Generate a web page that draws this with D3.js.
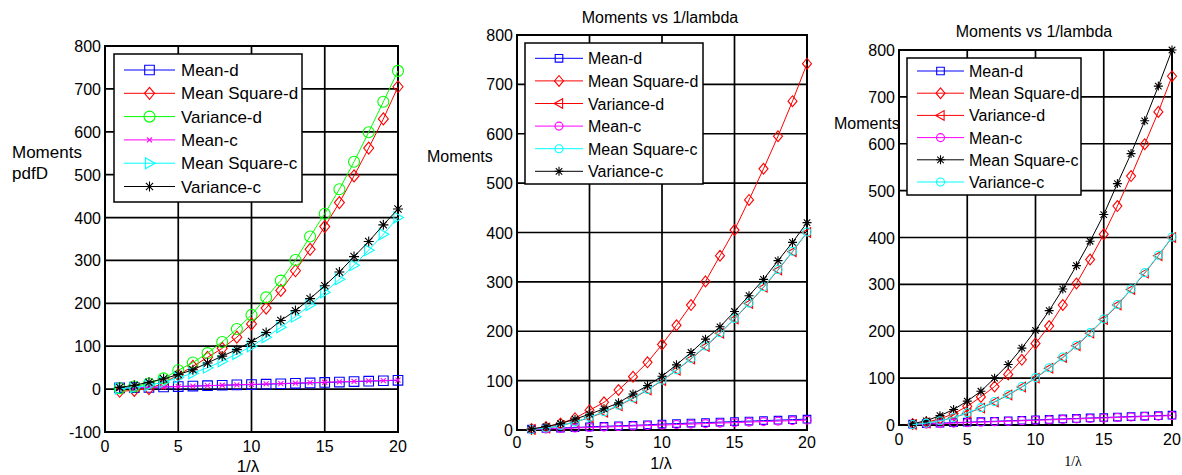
<!DOCTYPE html>
<html>
<head>
<meta charset="utf-8">
<script src="https://cdn.jsdelivr.net/npm/d3@7"></script>
<style>
body { margin: 0; background: #fff; }
svg text { font-family: "Liberation Sans", Arial, sans-serif; fill: #000; }
</style>
</head>
<body>
<svg id="chart" width="1182" height="475"></svg>
<script>
// x values (1/lambda)
const invLambda = [1, 2, 3, 4, 5, 6, 7, 8, 9, 10, 11, 12, 13, 14, 15, 16, 17, 18, 19, 20];
const xTicks = [0, 5, 10, 15, 20];
const yTicks1 = [-100, 0, 100, 200, 300, 400, 500, 600, 700, 800];
const yTicks23 = [0, 100, 200, 300, 400, 500, 600, 700, 800];

// panel 1 (pdfD)
const p1MeanD = [3, 3.5, 4, 5, 6, 7, 8, 9, 10, 10.5, 11.5, 12.5, 13.5, 14.5, 15.5, 16.5, 17.5, 18.5, 19.5, 20.5];
const p1MeanSqD = [-5, -3, 1, 14, 33, 53, 74, 95, 121, 152, 189, 230, 276, 326, 379, 435, 497, 562, 630, 705];
const p1VarD = [2, 6, 13, 25, 44, 62, 84, 110, 140, 173, 214, 253, 301, 356, 409, 466, 530, 599, 670, 742];
const p1MeanC = [2, 3, 4, 5, 6, 7, 8, 9, 10, 11, 12, 13, 14, 15, 16, 17, 18, 19, 20, 21];
const p1MeanSqC = [1, 4, 9, 16, 27, 37, 50, 65, 82, 100, 121, 144, 169, 196, 226, 256, 289, 324, 361, 400];
const p1VarC = [4, 9, 16, 24, 34, 45, 61, 77, 92, 111, 132, 160, 183, 211, 241, 273, 309, 344, 383, 420];

// panel 2
const p2MeanD = [2, 3, 4, 5, 6.5, 7.5, 8.5, 9.5, 10.5, 12, 13, 14, 15, 16, 17, 18, 19, 20, 21, 22];
const p2MeanSqD = [2, 6, 13, 24, 40, 56, 81, 108, 137, 173, 212, 253, 301, 353, 405, 466, 529, 595, 666, 742];
const p2VarD = [1, 4, 9, 16, 25, 36, 49, 64, 81, 100, 121, 144, 169, 196, 225, 256, 289, 324, 361, 400];
const p2MeanC = [1, 2, 3, 4, 5, 6, 7, 8, 9, 10, 11, 12, 13, 14, 15, 16, 17, 18, 19, 20];
const p2MeanSqC = [1, 4, 9, 16, 26, 37, 50, 65, 82, 101, 122, 145, 170, 197, 226, 257, 290, 325, 362, 401];
const p2VarC = [2, 7, 13, 22, 32, 43, 55, 73, 90, 109, 132, 157, 184, 209, 240, 272, 305, 343, 380, 420];

// panel 3
const p3MeanD = [2, 3, 4, 5, 6, 7, 8, 9, 10, 11, 12, 13, 14, 15, 16, 17, 18, 19, 20, 21];
const p3MeanSqD = [2, 6, 13, 24, 40, 60, 82, 108, 139, 174, 211, 256, 302, 353, 407, 467, 531, 599, 668, 744];
const p3VarD = [1, 4, 9, 16, 25, 36, 49, 64, 81, 100, 121, 144, 169, 196, 225, 256, 289, 324, 361, 400];
const p3MeanC = [1, 2, 3, 4, 5, 6, 7, 8, 9, 10, 11, 12, 13, 14, 15, 16, 17, 18, 19, 20];
const p3MeanSqC = [3, 9, 20, 33, 51, 72, 100, 129, 164, 202, 244, 290, 340, 392, 449, 515, 579, 649, 723, 800];
const p3VarC = [1, 4, 9, 16, 26, 37, 50, 65, 82, 101, 122, 145, 170, 197, 226, 257, 290, 325, 362, 401];

const names1 = ["Mean-d", "Mean Square-d", "Variance-d", "Mean-c", "Mean Square-c", "Variance-c"];

function markerPath(type, s) {
    const k = s * 0.72;
    switch (type) {
        case "square": return `M${-s},${-s}H${s}V${s}H${-s}Z`;
        case "diamond": return `M0,${-s * 1.2}L${s},0L0,${s * 1.2}L${-s},0Z`;
        case "circle": return `M${s},0A${s},${s} 0 1,1 ${-s},0A${s},${s} 0 1,1 ${s},0Z`;
        case "triRight": return `M${s},0L${-s * 0.75},${-s}L${-s * 0.75},${s}Z`;
        case "triLeft": return `M${-s},0L${s * 0.75},${-s}L${s * 0.75},${s}Z`;
        case "x": return `M${-s},${-s}L${s},${s}M${-s},${s}L${s},${-s}`;
        case "star": return `M0,${-s}V${s}M${-s},0H${s}M${-k},${-k}L${k},${k}M${-k},${k}L${k},${-k}`;
    }
}

const svg = d3.select("#chart");

function drawPanel(cfg) {
    const x = d3.scaleLinear().domain([0, 20]).range([cfg.left, cfg.right]);
    const y = d3.scaleLinear().domain(cfg.yDomain).range([cfg.bottom, cfg.top]);
    const g = svg.append("g");

    // grid
    g.selectAll(".vgrid").data(xTicks).enter().append("line")
        .attr("x1", d => x(d)).attr("x2", d => x(d))
        .attr("y1", cfg.top).attr("y2", cfg.bottom)
        .attr("stroke", "#000").attr("stroke-width", 1.7);
    g.selectAll(".hgrid").data(cfg.yTicks).enter().append("line")
        .attr("x1", cfg.left).attr("x2", cfg.right)
        .attr("y1", d => y(d)).attr("y2", d => y(d))
        .attr("stroke", "#000").attr("stroke-width", 1.7);
    g.append("rect")
        .attr("x", cfg.left).attr("y", cfg.top)
        .attr("width", cfg.right - cfg.left).attr("height", cfg.bottom - cfg.top)
        .attr("fill", "none").attr("stroke", "#000").attr("stroke-width", 2);

    // tick labels
    g.selectAll(".ylab").data(cfg.yTicks).enter().append("text")
        .attr("x", cfg.left - 4).attr("y", d => y(d) + 6)
        .attr("text-anchor", "end").style("font-size", "16px")
        .text(d => d);
    g.selectAll(".xlab").data(xTicks).enter().append("text")
        .attr("x", d => x(d)).attr("y", cfg.bottom + cfg.xLabGap)
        .attr("text-anchor", "middle").style("font-size", "16px")
        .text(d => d);

    // series
    const line = d3.line().x((d, i) => x(invLambda[i])).y(d => y(d));
    cfg.series.forEach(s => {
        g.append("path").datum(s.values)
            .attr("d", line).attr("fill", "none")
            .attr("stroke", s.color).attr("stroke-width", 1);
        g.selectAll(null).data(s.values).enter().append("path")
            .attr("transform", (d, i) => `translate(${x(invLambda[i])},${y(d)})`)
            .attr("d", markerPath(s.marker, s.size))
            .attr("fill", "none").attr("stroke", s.color).attr("stroke-width", 1.1);
    });

    // legend
    const L = cfg.legend;
    g.append("rect")
        .attr("x", L.x0).attr("y", L.y0)
        .attr("width", L.x1 - L.x0).attr("height", L.y1 - L.y0)
        .attr("fill", "#fff").attr("stroke", "#000").attr("stroke-width", 1.5);
    cfg.series.forEach((s, i) => {
        const ry = L.row0 + i * L.dy;
        g.append("line")
            .attr("x1", L.lx0).attr("x2", L.lx1).attr("y1", ry).attr("y2", ry)
            .attr("stroke", s.color).attr("stroke-width", 1);
        g.append("path")
            .attr("transform", `translate(${(L.lx0 + L.lx1) / 2},${ry})`)
            .attr("d", markerPath(s.marker, s.size))
            .attr("fill", "none").attr("stroke", s.color).attr("stroke-width", 1.1);
        g.append("text")
            .attr("x", L.tx).attr("y", ry + 6)
            .style("font-size", L.font + "px")
            .text(s.name);
    });

    // titles and labels
    if (cfg.title) {
        g.append("text").attr("x", cfg.title.x).attr("y", cfg.title.y)
            .attr("text-anchor", "middle").style("font-size", "16px")
            .text("Moments vs 1/lambda");
    }
    cfg.yLabel.lines.forEach((t, i) => {
        g.append("text").attr("x", cfg.yLabel.x).attr("y", cfg.yLabel.y + i * 21)
            .style("font-size", cfg.yLabel.font + "px").text(t);
    });
    g.append("text").attr("x", cfg.xLabel.x).attr("y", cfg.xLabel.y)
        .attr("text-anchor", "middle")
        .style("font-size", cfg.xLabel.font + "px")
        .style("font-family", cfg.xLabel.serif ? "'Liberation Serif', 'Times New Roman', serif" : null)
        .text("1/\u03bb");
}

drawPanel({
    left: 105, right: 398, top: 46, bottom: 432, yDomain: [-100, 800], yTicks: yTicks1, xLabGap: 20,
    series: [
        { name: names1[0], values: p1MeanD, color: "#0000ff", marker: "square", size: 4.8 },
        { name: names1[1], values: p1MeanSqD, color: "#ff0000", marker: "diamond", size: 5 },
        { name: names1[2], values: p1VarD, color: "#00ff00", marker: "circle", size: 5.5 },
        { name: names1[3], values: p1MeanC, color: "#ff00ff", marker: "x", size: 2.5 },
        { name: names1[4], values: p1MeanSqC, color: "#00ffff", marker: "triRight", size: 5.5 },
        { name: names1[5], values: p1VarC, color: "#000000", marker: "star", size: 5 }
    ],
    legend: { x0: 114, x1: 302, y0: 54, y1: 202, row0: 70, dy: 23.3, lx0: 124, lx1: 175, tx: 181, font: 17 },
    yLabel: { x: 12, y: 158, font: 17, lines: ["Moments", "pdfD"] },
    xLabel: { x: 248, y: 472, font: 17 }
});

drawPanel({
    left: 517, right: 807, top: 35, bottom: 430, yDomain: [0, 800], yTicks: yTicks23, xLabGap: 18,
    series: [
        { name: "Mean-d", values: p2MeanD, color: "#0000ff", marker: "square", size: 3.8 },
        { name: "Mean Square-d", values: p2MeanSqD, color: "#ff0000", marker: "diamond", size: 4.5 },
        { name: "Variance-d", values: p2VarD, color: "#ff0000", marker: "triLeft", size: 4.8 },
        { name: "Mean-c", values: p2MeanC, color: "#ff00ff", marker: "circle", size: 4 },
        { name: "Mean Square-c", values: p2MeanSqC, color: "#00ffff", marker: "circle", size: 4 },
        { name: "Variance-c", values: p2VarC, color: "#000000", marker: "star", size: 4.5 }
    ],
    legend: { x0: 525, x1: 703, y0: 43, y1: 184, row0: 58.3, dy: 22.6, lx0: 535, lx1: 583, tx: 588, font: 16 },
    title: { x: 660, y: 23 },
    yLabel: { x: 427, y: 162, font: 16, lines: ["Moments"] },
    xLabel: { x: 661, y: 469, font: 16 }
});

drawPanel({
    left: 899, right: 1172, top: 50, bottom: 425, yDomain: [0, 800], yTicks: yTicks23, xLabGap: 20,
    series: [
        { name: "Mean-d", values: p3MeanD, color: "#0000ff", marker: "square", size: 3.8 },
        { name: "Mean Square-d", values: p3MeanSqD, color: "#ff0000", marker: "diamond", size: 4.5 },
        { name: "Variance-d", values: p3VarD, color: "#ff0000", marker: "triLeft", size: 4.8 },
        { name: "Mean-c", values: p3MeanC, color: "#ff00ff", marker: "circle", size: 4 },
        { name: "Mean Square-c", values: p3MeanSqC, color: "#000000", marker: "star", size: 4.5 },
        { name: "Variance-c", values: p3VarC, color: "#00ffff", marker: "circle", size: 4 }
    ],
    legend: { x0: 907, x1: 1081, y0: 58, y1: 195, row0: 71, dy: 22.2, lx0: 917, lx1: 964, tx: 969, font: 16 },
    title: { x: 1034, y: 37 },
    yLabel: { x: 834, y: 129, font: 16, lines: ["Moments"] },
    xLabel: { x: 1073, y: 466, font: 14, serif: true }
});
</script>
</body>
</html>
